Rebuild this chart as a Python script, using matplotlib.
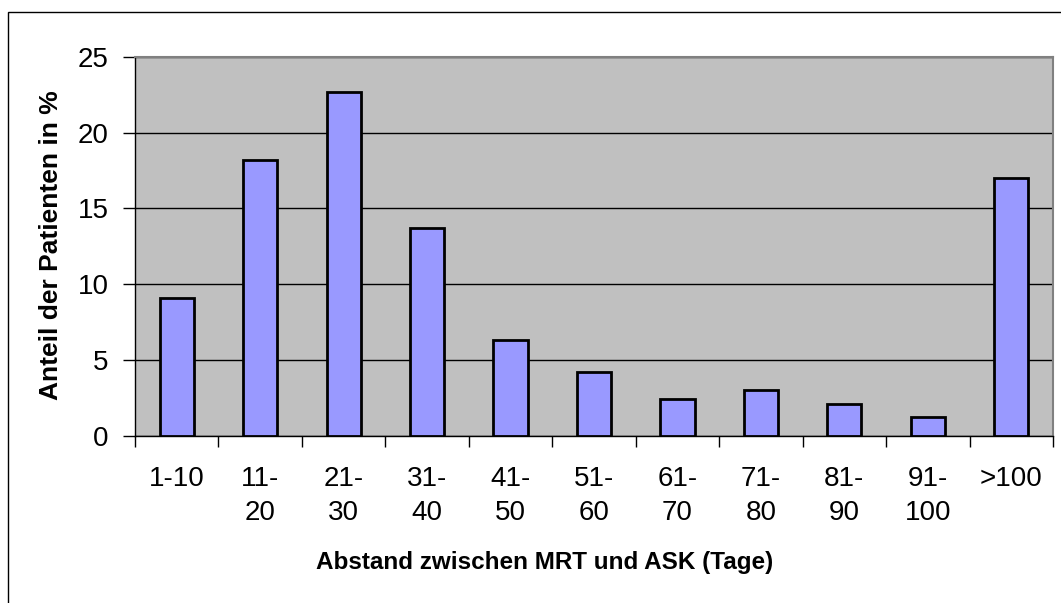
import numpy as np
import matplotlib.pyplot as plt
from matplotlib.patches import Rectangle

plt.rcParams['font.family'] = ['Liberation Sans', 'DejaVu Sans']

# ---------------------------------- DATA ----------------------------------
categories = ['1-10', '11-\n20', '21-\n30', '31-\n40', '41-\n50', '51-\n60',
              '61-\n70', '71-\n80', '81-\n90', '91-\n100', '>100']
anteil = [9.1, 18.2, 22.7, 13.7, 6.3, 4.2, 2.4, 3.0, 2.1, 1.2, 17.0]
y_ticks = [0, 5, 10, 15, 20, 25]

# ---------------------------------- PLOT ----------------------------------
W, H = 1061, 603
fig = plt.figure(figsize=(W / 100, H / 100), dpi=100)
fig.patch.set_facecolor('white')

left, right, top, bottom = 135, 1053, 57, 435.5
ax = fig.add_axes([left / W, 1 - bottom / H, (right - left) / W, (bottom - top) / H])
ax.set_facecolor('#C0C0C0')

x = np.arange(len(categories))
ax.bar(x, anteil, width=0.41, color='#9999FF', edgecolor='black', linewidth=2, zorder=3)

ax.set_xlim(-0.5, len(categories) - 0.5)
ax.set_ylim(0, 25)
ax.set_yticks(y_ticks)
ax.set_yticklabels([str(v) for v in y_ticks])
ax.yaxis.grid(True, color='black', linewidth=1, zorder=0)

# tick marks between categories, labels under the bars
ax.set_xticks(x)
ax.set_xticklabels(categories, linespacing=1.4)
ax.set_xticks(np.arange(-0.5, len(categories)), minor=True)
ax.tick_params(axis='x', which='major', length=0, pad=22, labelsize=20)
ax.tick_params(axis='x', which='minor', length=8, width=1, direction='out')
ax.tick_params(axis='y', length=9, width=1, direction='out', pad=10, labelsize=20)

for s in ['top', 'right']:
    ax.spines[s].set_color('#808080')
    ax.spines[s].set_linewidth(1.5)
for s in ['left', 'bottom']:
    ax.spines[s].set_color('black')
    ax.spines[s].set_linewidth(1)

fig.text(51 / W, 1 - 245 / H, 'Anteil der Patienten in %', rotation=90,
         ha='center', va='center', fontsize=19, fontweight='bold')
fig.text(545 / W, 1 - 562 / H, 'Abstand zwischen MRT und ASK (Tage)',
         ha='center', va='center', fontsize=17.5, fontweight='bold')

# outer frame of the chart (only left/top visible in the image)
fig.patches.append(Rectangle((8 / W, -0.1), 1.2, 1 - 12 / H + 0.1,
                             transform=fig.transFigure, fill=False,
                             edgecolor='black', linewidth=1))

fig.savefig('out.png', dpi=100)
